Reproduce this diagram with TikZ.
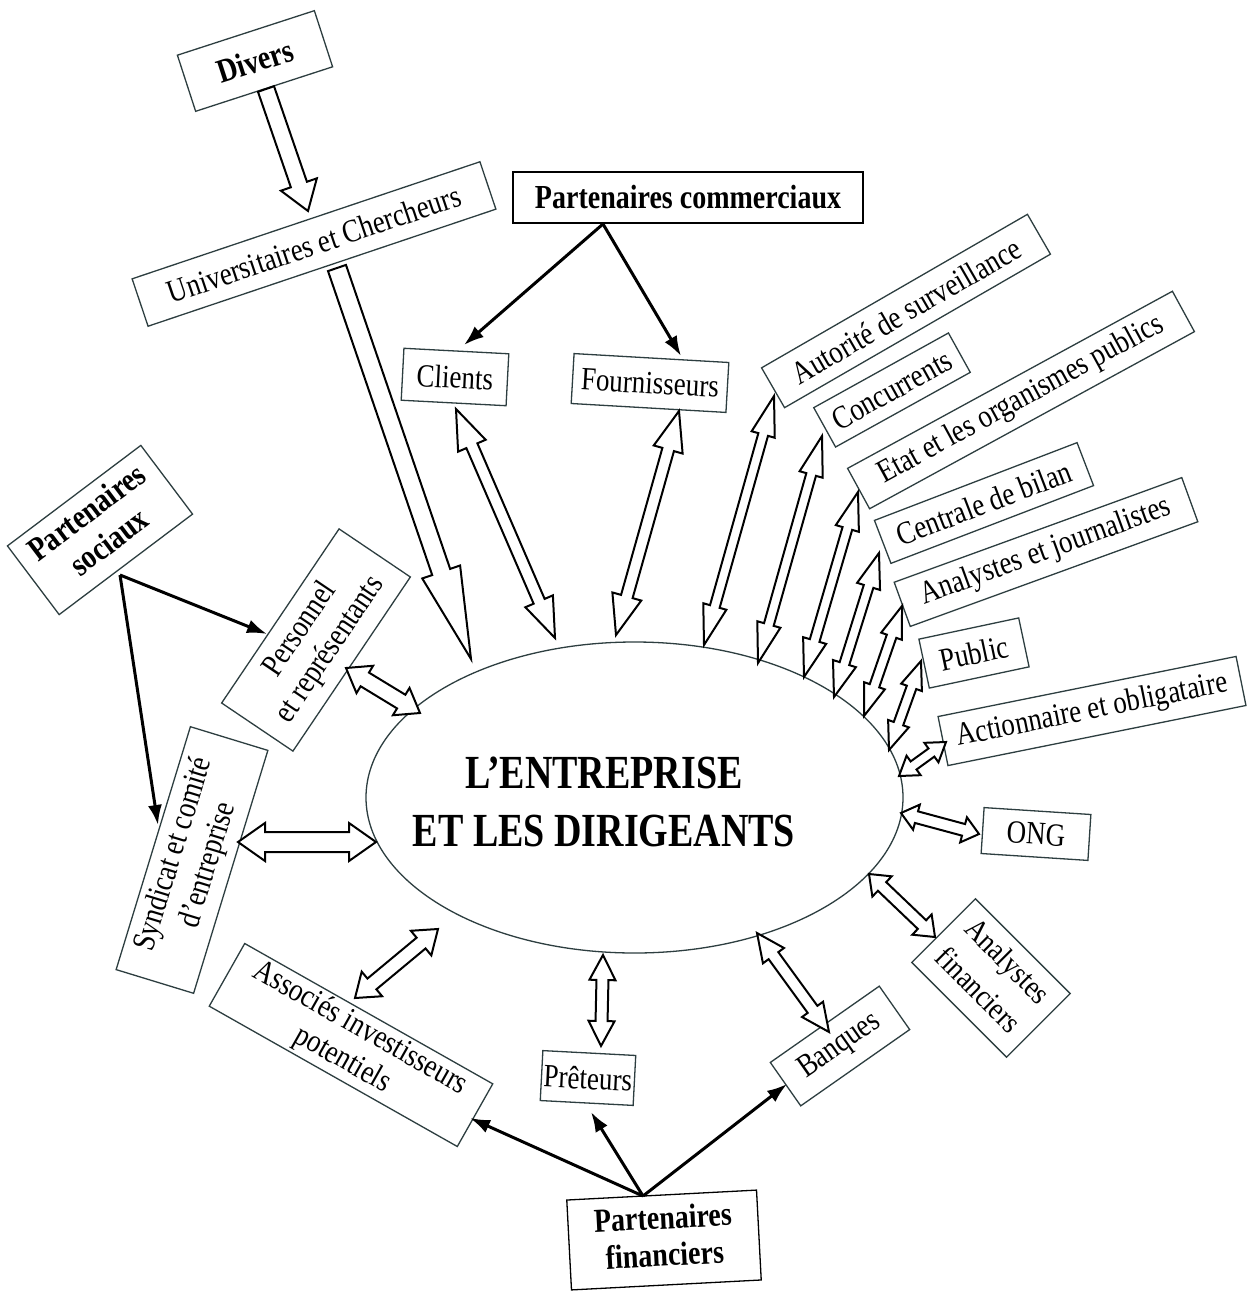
\documentclass[tikz,border=0pt]{standalone}
\usepackage{fontspec}
\setmainfont{Liberation Serif}
\usepackage{graphicx}
\usetikzlibrary{calc,arrows.meta,shapes.geometric}
\definecolor{boxc}{RGB}{45,62,64}
\newcommand\vs[1]{\scalebox{1}[1.2]{#1}}
\newcommand\twol[2]{\scalebox{1}[1.2]{\begin{tabular}{@{}c@{}}#1\\#2\end{tabular}}}
\newcommand\twolw[2]{\scalebox{1}[1.15]{\begin{tabular}{@{}c@{}}#1\\[6pt]#2\end{tabular}}}
\newcommand\myfr{\fontsize{27}{30}\selectfont}
\newcommand\myfb{\bfseries\fontsize{28}{31}\selectfont}
% double-headed hollow arrow: from, to, shaft half width, head half width, head length
\newcommand\harrow[5]{%
 \filldraw[hollow] (#1)
 -- ($(#1)!#5!(#2)!#4!90:(#2)$)
 -- ($(#1)!#5!(#2)!#3!90:(#2)$)
 -- ($(#2)!#5!(#1)!#3!-90:(#1)$)
 -- ($(#2)!#5!(#1)!#4!-90:(#1)$)
 -- (#2)
 -- ($(#2)!#5!(#1)!#4!90:(#1)$)
 -- ($(#2)!#5!(#1)!#3!90:(#1)$)
 -- ($(#1)!#5!(#2)!#3!-90:(#2)$)
 -- ($(#1)!#5!(#2)!#4!-90:(#2)$)
 -- cycle;}
% single-headed hollow arrow
\newcommand\sarrow[5]{%
 \filldraw[hollow] ($(#1)!#3!90:(#2)$)
 -- ($(#2)!#5!(#1)!#3!-90:(#1)$)
 -- ($(#2)!#5!(#1)!#4!-90:(#1)$)
 -- (#2)
 -- ($(#2)!#5!(#1)!#4!90:(#1)$)
 -- ($(#2)!#5!(#1)!#3!90:(#1)$)
 -- ($(#1)!#3!-90:(#2)$)
 -- cycle;}
\begin{document}
\begin{tikzpicture}[x=1pt,y=-1pt,
  lbl/.style={draw=boxc, line width=1.3pt, fill=white, rotate=#1, inner sep=0pt, font=\myfr},
  lbl/.default=0,
  hb/.style={font=\myfb},
  hollow/.style={draw=black, fill=white, line width=2pt, line join=miter},
  conn/.style={line width=3pt, -{Latex[length=20pt,width=14pt]}}]
\fill[white] (0,0) rectangle (1249,1303);
\useasboundingbox (0,0) rectangle (1249,1303);

% centre
\node[ellipse, draw=boxc, line width=1.3pt, minimum width=537pt, minimum height=311pt, inner sep=0pt] (ent) at (634.5,797.5) {};
\node[font=\bfseries\fontsize{38}{46}\selectfont, inner sep=0pt] (entt) at (604,806)
  {\scalebox{1}[1.25]{\begin{tabular}{@{}c@{}}L’ENTREPRISE\\ET LES DIRIGEANTS\end{tabular}}};

% boxes
\node[lbl=18,hb,minimum width=144pt,minimum height=59pt] (divers) at (255,61) {\vs{Divers}};
\node[lbl=18.6,minimum width=367pt,minimum height=50pt] (univ) at (314,244) {\vs{Universitaires et Chercheurs}};
\node[lbl,hb,draw=black,line width=2pt,minimum width=350pt,minimum height=51pt] (pc) at (688,197) {\vs{Partenaires commerciaux}};
\node[lbl=-3,minimum width=105pt,minimum height=52pt] (cli) at (455,377) {\vs{Clients}};
\node[lbl=-3.3,minimum width=155pt,minimum height=50pt] (fou) at (650,383) {\vs{Fournisseurs}};
\node[lbl=30,minimum width=307pt,minimum height=46pt] (aut) at (906,311) {\vs{Autorité de surveillance}};
\node[lbl=29,minimum width=154pt,minimum height=45pt] (con) at (892,390) {\vs{Concurrents}};
\node[lbl=28.6,minimum width=370pt,minimum height=46pt] (eta) at (1021,400) {\vs{Etat et les organismes publics}};
\node[lbl=21,minimum width=217pt,minimum height=46pt] (cen) at (984,503) {\vs{Centrale de bilan}};
\node[lbl=20,minimum width=306pt,minimum height=47pt] (anj) at (1046,552) {\vs{Analystes et journalistes}};
\node[lbl=12,minimum width=102pt,minimum height=50pt] (pub) at (974,653) {\vs{Public}};
\node[lbl=11.4,minimum width=304pt,minimum height=50pt] (act) at (1092,711) {\vs{Actionnaire et obligataire}};
\node[lbl=-3.7,minimum width=107pt,minimum height=46pt] (ong) at (1036,834) {\vs{ONG}};
\node[lbl=-45,minimum width=134pt,minimum height=90pt] (anf) at (991,978) {\twolw{Analystes}{financiers}};
\node[lbl=35,minimum width=133pt,minimum height=53pt] (ban) at (840,1046) {\vs{Banques}};
\node[lbl=-3,minimum width=93pt,minimum height=50pt] (pre) at (588,1078) {\vs{Prêteurs}};
\node[lbl=-29.5,minimum width=285pt,minimum height=72pt] (ass) at (351,1045) {\twol{Associés investisseurs}{potentiels}};
\node[lbl=3,hb,draw=black,minimum width=190pt,minimum height=90pt] (pf) at (664,1240) {\twol{Partenaires}{financiers}};
\node[lbl=37,hb,minimum width=167pt,minimum height=86pt] (ps) at (100,530) {\twol{Partenaires}{sociaux}};
\node[lbl=56,minimum width=210pt,minimum height=86pt] (per) at (316,640) {\twol{Personnel}{et représentants}};
\node[lbl=73,minimum width=254pt,minimum height=81pt] (syn) at (192,860) {\twol{Syndicat et comité}{d’entreprise}};

% connector end points
\coordinate (dvA) at (266,89);   \coordinate (dvB) at (308,211);
\coordinate (unA) at (337,268);  \coordinate (unB) at (471,659);
\coordinate (clA) at (456,409);  \coordinate (clB) at (555,638);
\coordinate (foA) at (679,411);  \coordinate (foB) at (616,635);
\coordinate (auA) at (774,396);  \coordinate (auB) at (704,645);
\coordinate (coA) at (822,436);  \coordinate (coB) at (758,663);
\coordinate (etA) at (858,492);  \coordinate (etB) at (804,677);
\coordinate (ceA) at (879,553);  \coordinate (ceB) at (834,697);
\coordinate (ajA) at (902,606);  \coordinate (ajB) at (864,716);
\coordinate (puA) at (921,661);  \coordinate (puB) at (889,750);
\coordinate (acA) at (946,742);  \coordinate (acB) at (899,776);
\coordinate (onA) at (979,834);  \coordinate (onB) at (901,813);
\coordinate (afA) at (935,937);  \coordinate (afB) at (869,874);
\coordinate (baA) at (829,1032); \coordinate (baB) at (757,933);
\coordinate (prA) at (601,1046); \coordinate (prB) at (603,955);
\coordinate (asA) at (355,998);  \coordinate (asB) at (438,929);
\coordinate (syA) at (238,842);  \coordinate (syB) at (376,842);
\coordinate (peA) at (346,668);  \coordinate (peB) at (420,713);

\coordinate (pcS) at (603,224);  \coordinate (pcC) at (464,345); \coordinate (pcF) at (681,356);
\coordinate (psS) at (120,575);  \coordinate (psP) at (267,634); \coordinate (psY) at (158,825);
\coordinate (pfS) at (643,1196); \coordinate (pfA) at (470,1118); \coordinate (pfP) at (591,1112); \coordinate (pfB) at (787,1084);

% hollow arrows
\sarrow{dvA}{dvB}{8.5pt}{19pt}{28pt}
\sarrow{unA}{unB}{9.5pt}{20pt}{92pt}
\harrow{clA}{clB}{6pt}{15pt}{40pt}
\harrow{foA}{foB}{6pt}{15pt}{40pt}
\harrow{auA}{auB}{5pt}{12pt}{40pt}
\harrow{coA}{coB}{5pt}{12pt}{40pt}
\harrow{etA}{etB}{5pt}{12pt}{38pt}
\harrow{ceA}{ceB}{5pt}{12pt}{35pt}
\harrow{ajA}{ajB}{5pt}{11pt}{32pt}
\harrow{puA}{puB}{5pt}{11pt}{28pt}
\harrow{acA}{acB}{5pt}{12pt}{18pt}
\harrow{onA}{onB}{6pt}{13pt}{16pt}
\harrow{afA}{afB}{6pt}{14pt}{18pt}
\harrow{baA}{baB}{6pt}{13pt}{28pt}
\harrow{prA}{prB}{6pt}{13pt}{25pt}
\harrow{asA}{asB}{7pt}{16pt}{22pt}
\harrow{syA}{syB}{10pt}{19pt}{27pt}
\harrow{peA}{peB}{8pt}{16pt}{22pt}

% solid connectors
\draw[conn] (pcS) -- (pcC);
\draw[conn] (pcS) -- (pcF);
\draw[conn] (psS) -- (psP);
\draw[conn] (psS) -- (psY);
\draw[conn] (pfS) -- (pfA);
\draw[conn] (pfS) -- (pfP);
\draw[conn] (pfS) -- (pfB);
\end{tikzpicture}
\end{document}
